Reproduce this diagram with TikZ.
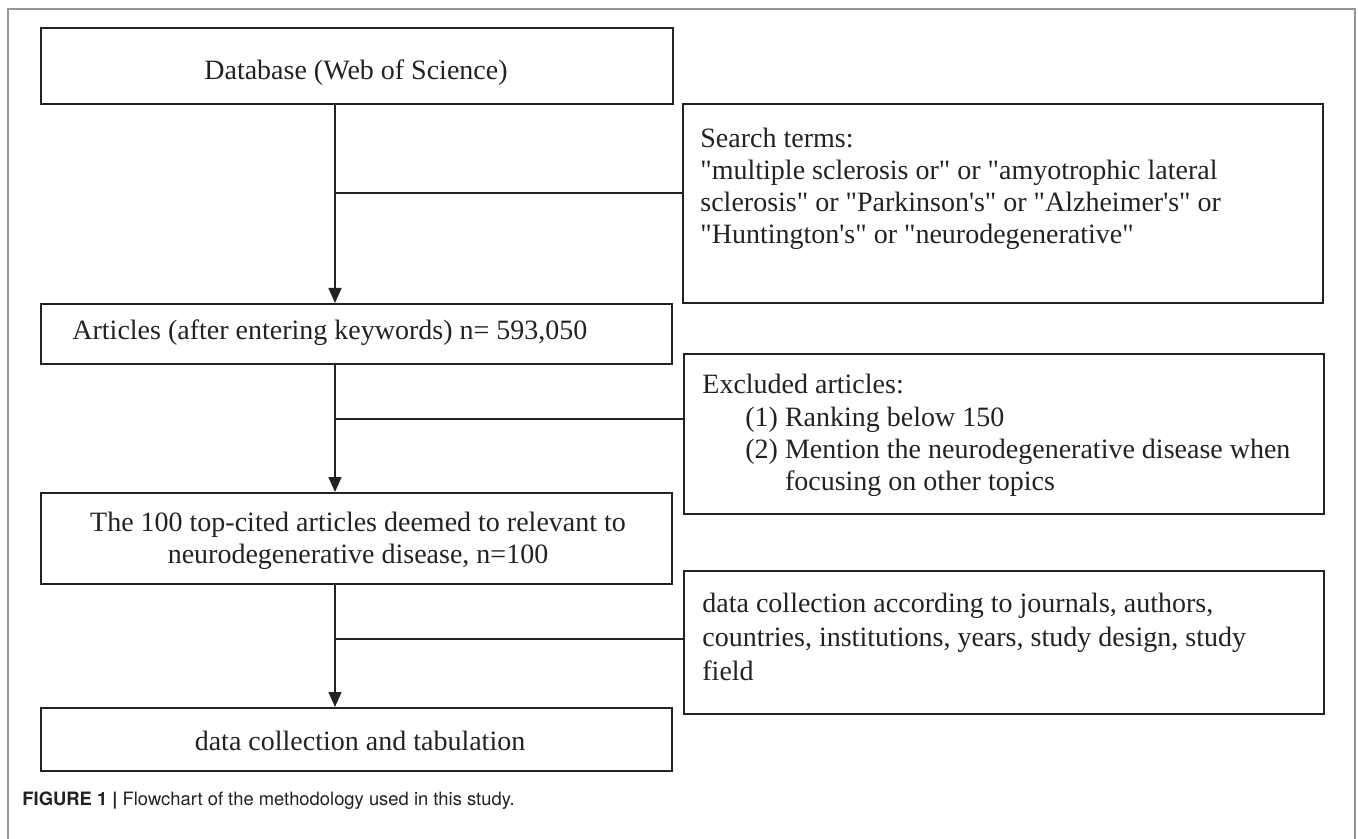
\documentclass[tikz,border=0pt]{standalone}
\usepackage{fontspec}
\setmainfont{Liberation Serif}[Ligatures=TeXOff]
\newfontfamily\capfont{TeX Gyre Heros}
\usetikzlibrary{arrows.meta}
\definecolor{ink}{HTML}{222222}
\definecolor{framegray}{HTML}{959595}
\begin{document}
\begin{tikzpicture}[x=0.5pt,y=-0.5pt,
  box/.style={draw=ink, line width=1.2pt, anchor=north west, inner sep=0pt},
  txt/.style={anchor=base west, inner sep=0pt, text=ink, font=\fontsize{14}{16}\selectfont},
  ctxt/.style={txt, anchor=base},
  conn/.style={draw=ink, line width=0.75pt},
  arr/.style={conn, -{Triangle[length=7.5pt,width=6.5pt]}},
  frameline/.style={draw=framegray, line width=1pt}]
\useasboundingbox (0,0) rectangle (1358,839);
\draw[frameline] (8,839) -- (8,9) -- (1355,9) -- (1355,839);
% boxes
\node[box, minimum width=316pt, minimum height=38pt] (db) at (40,27) {};
\node[box, minimum width=320pt, minimum height=99.5pt] (st) at (682,103) {};
\node[box, minimum width=315.5pt, minimum height=30pt] (art) at (40,303) {};
\node[box, minimum width=320pt, minimum height=80pt] (ex) at (683,353) {};
\node[box, minimum width=315.5pt, minimum height=45.5pt] (top) at (40,492) {};
\node[box, minimum width=320pt, minimum height=71.5pt] (dc) at (683,570) {};
\node[box, minimum width=315.5pt, minimum height=31.5pt] (fin) at (40,707) {};
% texts
\node[ctxt] (dbt) at (356,80) {Database (Web of Science)};
\node[txt] (st1) at (700,148) {Search terms:};
\node[txt] (st2) at (700,180) {"multiple sclerosis or" or "amyotrophic lateral};
\node[txt] (st3) at (700,212) {sclerosis" or "Parkinson's" or "Alzheimer's" or};
\node[txt] (st4) at (700,244) {"Huntington's" or "neurodegenerative"};
\node[txt] (artt) at (72,340) {Articles (after entering keywords) n= 593,050};
\node[txt] (ex1) at (702,393) {Excluded articles:};
\node[txt] (ex2) at (745,426) {(1) Ranking below 150};
\node[txt] (ex3) at (745,458) {(2) Mention the neurodegenerative disease when};
\node[txt] (ex4) at (745,490) {\phantom{(2) }focusing on other topics};
\node[ctxt] (top1) at (358,531) {The 100 top-cited articles deemed to relevant to};
\node[ctxt] (top2) at (358,563) {neurodegenerative disease, n=100};
\node[txt] (dc1) at (702,612) {data collection according to journals, authors,};
\node[txt] (dc2) at (702,646) {countries, institutions, years, study design, study};
\node[txt] (dc3) at (702,680) {field};
\node[ctxt] (fint) at (360,750) {data collection and tabulation};
\node[anchor=base west, inner sep=0pt, text=ink, font=\capfont\fontsize{9.2}{10}\selectfont] (cap) at (22,805) {\textbf{FIGURE 1 |} Flowchart of the methodology used in this study.};
% connectors
\coordinate (ax) at (335,0);
\draw[arr] (db.south -| ax) -- (art.north -| ax);
\coordinate (j1) at (335,193);
\draw[conn] (j1) -- (j1 -| st.west);
\draw[arr] (art.south -| ax) -- (top.north -| ax);
\coordinate (j2) at (335,419);
\draw[conn] (j2) -- (j2 -| ex.west);
\draw[arr] (top.south -| ax) -- (fin.north -| ax);
\coordinate (j3) at (335,639);
\draw[conn] (j3) -- (j3 -| dc.west);
\end{tikzpicture}
\end{document}
